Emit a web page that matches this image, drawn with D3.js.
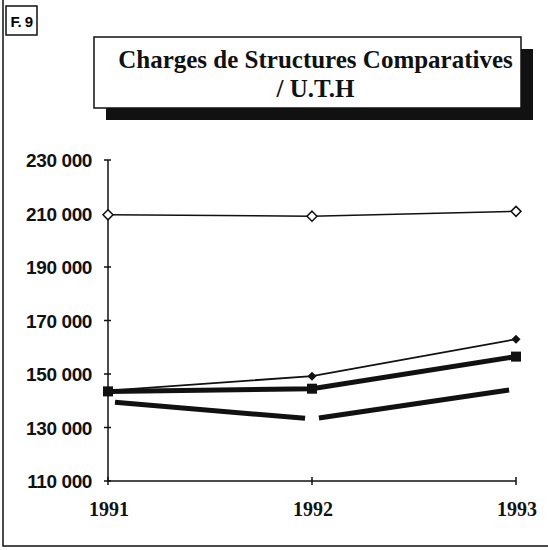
<!DOCTYPE html>
<html>
<head>
<meta charset="utf-8">
<script src="https://cdn.jsdelivr.net/npm/d3@7"></script>
<style>
  body { margin: 0; background: #fff; }
  svg { display: block; }
</style>
</head>
<body>
<svg id="chart"></svg>
<script>
// Data
var years = [1991, 1992, 1993];
var yTicks = [110000, 130000, 150000, 170000, 190000, 210000, 230000];
var seriesOpenDiamond = [209500, 209000, 210800];
var seriesDiamond = [143800, 149200, 163000];
var seriesSquare = [143500, 144500, 156500];
var seriesPlain = [139700, 133200, 144400];

var width = 548,
  height = 550,
  margin = { top: 160, right: 32, bottom: 69, left: 108 },
  plotW = width - margin.left - margin.right,
  plotH = height - margin.top - margin.bottom;

var svg = d3.select("#chart").attr("width", width).attr("height", height);

// scanned page frame (only left + bottom edges show)
svg.append("path")
  .attr("d", "M3,0 L3,546 L548,546")
  .attr("fill", "none")
  .attr("stroke", "#111")
  .attr("stroke-width", 1.5);

// "F. 9" label box
svg.append("rect")
  .attr("x", 6).attr("y", 6).attr("width", 31).attr("height", 29)
  .attr("fill", "#fff").attr("stroke", "#111").attr("stroke-width", 1.5);
svg.append("text")
  .attr("x", 21.5).attr("y", 27)
  .attr("text-anchor", "middle")
  .style("font-family", "'Liberation Sans', Arial, sans-serif")
  .style("font-size", "15px")
  .style("font-weight", "bold")
  .style("letter-spacing", "-0.5px")
  .text("F. 9");

// title box with drop shadow
var tb = { x: 94, y: 37, w: 427, h: 71, off: 12 };
svg.append("rect")
  .attr("x", tb.x + tb.off).attr("y", tb.y + tb.off)
  .attr("width", tb.w).attr("height", tb.h)
  .attr("fill", "#111");
svg.append("rect")
  .attr("x", tb.x).attr("y", tb.y)
  .attr("width", tb.w).attr("height", tb.h)
  .attr("fill", "#fff").attr("stroke", "#111").attr("stroke-width", 1.5);

var title = svg.append("text")
  .attr("text-anchor", "middle")
  .style("font-family", "'Liberation Serif', 'Times New Roman', serif")
  .style("font-size", "25px")
  .style("font-weight", "bold")
  .attr("fill", "#111");
title.append("tspan").attr("x", tb.x + tb.w / 2 + 8).attr("y", 68)
  .text("Charges de Structures Comparatives");
title.append("tspan").attr("x", tb.x + tb.w / 2 + 8).attr("y", 97)
  .text("/ U.T.H");

var g = svg.append("g")
  .attr("transform", "translate(" + margin.left + "," + margin.top + ")");

var xScale = d3.scalePoint().domain(years).range([0, plotW]);
var yScale = d3.scaleLinear().domain([110000, 230000]).range([plotH, 0]);

var fmt = function(d) {
  return d3.format(",")(d).replace(/,/g, " ");
};

// y axis
var yAxis = g.append("g");
yAxis.append("line")
  .attr("x1", 0).attr("x2", 0)
  .attr("y1", yScale(230000)).attr("y2", yScale(110000))
  .attr("stroke", "#111").attr("stroke-width", 1.5);
yAxis.selectAll(".tick")
  .data(yTicks)
  .enter()
  .append("line")
  .attr("x1", -4).attr("x2", 3)
  .attr("y1", d => yScale(d)).attr("y2", d => yScale(d))
  .attr("stroke", "#111").attr("stroke-width", 1.5);
yAxis.selectAll(".lbl")
  .data(yTicks)
  .enter()
  .append("text")
  .attr("x", -16)
  .attr("y", d => yScale(d) + 7)
  .attr("text-anchor", "end")
  .style("font-family", "'Liberation Sans', Arial, sans-serif")
  .style("font-size", "19px")
  .style("font-weight", "bold")
  .style("letter-spacing", "-0.4px")
  .attr("fill", "#111")
  .text(fmt);

// x axis
var xAxis = g.append("g").attr("transform", "translate(0," + plotH + ")");
xAxis.append("line")
  .attr("x1", 0).attr("x2", plotW)
  .attr("stroke", "#111").attr("stroke-width", 1.5);
xAxis.selectAll(".tick")
  .data(years)
  .enter()
  .append("line")
  .attr("x1", d => xScale(d)).attr("x2", d => xScale(d))
  .attr("y1", -4).attr("y2", 4)
  .attr("stroke", "#111").attr("stroke-width", 1.5);
xAxis.selectAll(".lbl")
  .data(years)
  .enter()
  .append("text")
  .attr("x", d => xScale(d) + 1)
  .attr("y", 35)
  .attr("text-anchor", "middle")
  .style("font-family", "'Liberation Serif', 'Times New Roman', serif")
  .style("font-size", "20px")
  .style("font-weight", "bold")
  .attr("fill", "#111")
  .text(d => d);

var line = d3.line()
  .x((d, i) => xScale(years[i]))
  .y(d => yScale(d));

// plain thick series, drawn as separate shortened segments (gap at each point)
var gap = 7;
var segs = d3.pairs(seriesPlain.map((v, i) => [xScale(years[i]), yScale(v)]));
g.selectAll(".seg")
  .data(segs)
  .enter()
  .append("line")
  .each(function(s) {
    var dx = s[1][0] - s[0][0], dy = s[1][1] - s[0][1];
    var len = Math.sqrt(dx * dx + dy * dy);
    var ux = dx / len, uy = dy / len;
    d3.select(this)
      .attr("x1", s[0][0] + ux * gap).attr("y1", s[0][1] + uy * gap)
      .attr("x2", s[1][0] - ux * gap).attr("y2", s[1][1] - uy * gap);
  })
  .attr("stroke", "#111")
  .attr("stroke-width", 5);

// thick series with squares
g.append("path")
  .datum(seriesSquare)
  .attr("d", line)
  .attr("fill", "none")
  .attr("stroke", "#111")
  .attr("stroke-width", 5);

// thin series with filled diamonds
g.append("path")
  .datum(seriesDiamond)
  .attr("d", line)
  .attr("fill", "none")
  .attr("stroke", "#111")
  .attr("stroke-width", 1.8);

// thin series with open diamonds
g.append("path")
  .datum(seriesOpenDiamond)
  .attr("d", line)
  .attr("fill", "none")
  .attr("stroke", "#111")
  .attr("stroke-width", 1.5);

var diamond = function(r) {
  return "M0," + (-r) + "L" + r + ",0L0," + r + "L" + (-r) + ",0Z";
};

g.selectAll(".sq")
  .data(seriesSquare)
  .enter()
  .append("rect")
  .attr("x", (d, i) => xScale(years[i]) - 5)
  .attr("y", d => yScale(d) - 5)
  .attr("width", 10).attr("height", 10)
  .attr("fill", "#111");

g.selectAll(".fd")
  .data(seriesDiamond)
  .enter()
  .append("path")
  .attr("d", diamond(4.5))
  .attr("transform", (d, i) => "translate(" + xScale(years[i]) + "," + yScale(d) + ")")
  .attr("fill", "#111");

g.selectAll(".od")
  .data(seriesOpenDiamond)
  .enter()
  .append("path")
  .attr("d", diamond(5))
  .attr("transform", (d, i) => "translate(" + xScale(years[i]) + "," + yScale(d) + ")")
  .attr("fill", "#fff")
  .attr("stroke", "#111")
  .attr("stroke-width", 1.5);
</script>
</body>
</html>
